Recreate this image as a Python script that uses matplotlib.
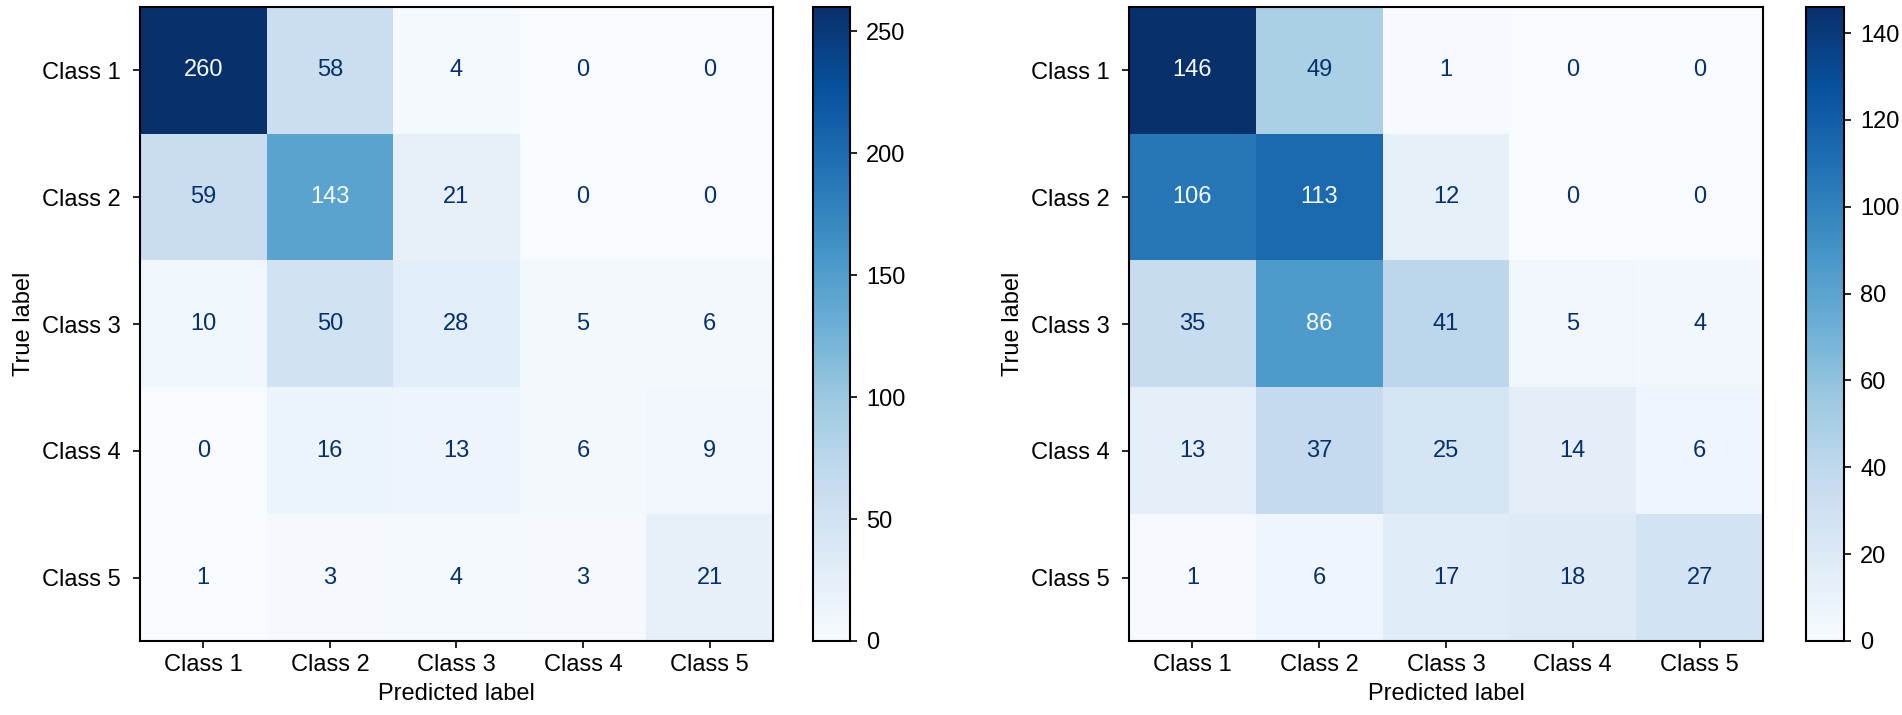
import numpy as np
import matplotlib
matplotlib.use("Agg")
import matplotlib.pyplot as plt

plt.rcParams['font.family'] = ['Liberation Sans', 'DejaVu Sans']
plt.rcParams['font.size'] = 17

class_names = ["Class 1", "Class 2", "Class 3", "Class 4", "Class 5"]

cm_left = np.array([
    [260, 58, 4, 0, 0],
    [59, 143, 21, 0, 0],
    [10, 50, 28, 5, 6],
    [0, 16, 13, 6, 9],
    [1, 3, 4, 3, 21],
])

cm_right = np.array([
    [146, 49, 1, 0, 0],
    [106, 113, 12, 0, 0],
    [35, 86, 41, 5, 4],
    [13, 37, 25, 14, 6],
    [1, 6, 17, 18, 27],
])

cbar_ticks_left = [0, 50, 100, 150, 200, 250]
cbar_ticks_right = [0, 20, 40, 60, 80, 100, 120, 140]


def draw_cm(ax, cax, cm, ticks):
    cmap = plt.cm.Blues
    im = ax.imshow(cm, cmap=cmap, interpolation="nearest", aspect="auto")
    thresh = (cm.max() + cm.min()) / 2.0
    for i in range(cm.shape[0]):
        for j in range(cm.shape[1]):
            # light text on dark cells, dark text elsewhere
            color = cmap(0.0) if cm[i, j] > thresh else cmap(1.0)
            ax.text(j, i, str(cm[i, j]), ha="center", va="center", color=color, fontsize=17)
    n = len(class_names)
    ax.set_xticks(range(n))
    ax.set_yticks(range(n))
    ax.set_xticklabels(class_names)
    ax.set_yticklabels(class_names)
    ax.set_xlabel("Predicted label", labelpad=5)
    ax.set_ylabel("True label", labelpad=5)
    ax.tick_params(length=4.7, width=1.2)
    ax.tick_params(axis="x", pad=5)
    ax.tick_params(axis="y", pad=9)
    for s in ax.spines.values():
        s.set_linewidth(1.5)
    cb = plt.colorbar(im, cax=cax)
    cb.set_ticks(ticks)
    cb.ax.tick_params(length=4.7, width=1.2, pad=7)
    cb.outline.set_linewidth(1.5)


fig = plt.figure(figsize=(19.02, 7.15), dpi=100)
ax1 = fig.add_axes([0.0736, 0.1035, 0.3328, 0.8867])
cax1 = fig.add_axes([0.4274, 0.1035, 0.0195, 0.8867])
ax2 = fig.add_axes([0.5936, 0.1035, 0.3333, 0.8867])
cax2 = fig.add_axes([0.9495, 0.1035, 0.0200, 0.8867])

draw_cm(ax1, cax1, cm_left, cbar_ticks_left)
draw_cm(ax2, cax2, cm_right, cbar_ticks_right)

fig.savefig("out.png", dpi=100)
